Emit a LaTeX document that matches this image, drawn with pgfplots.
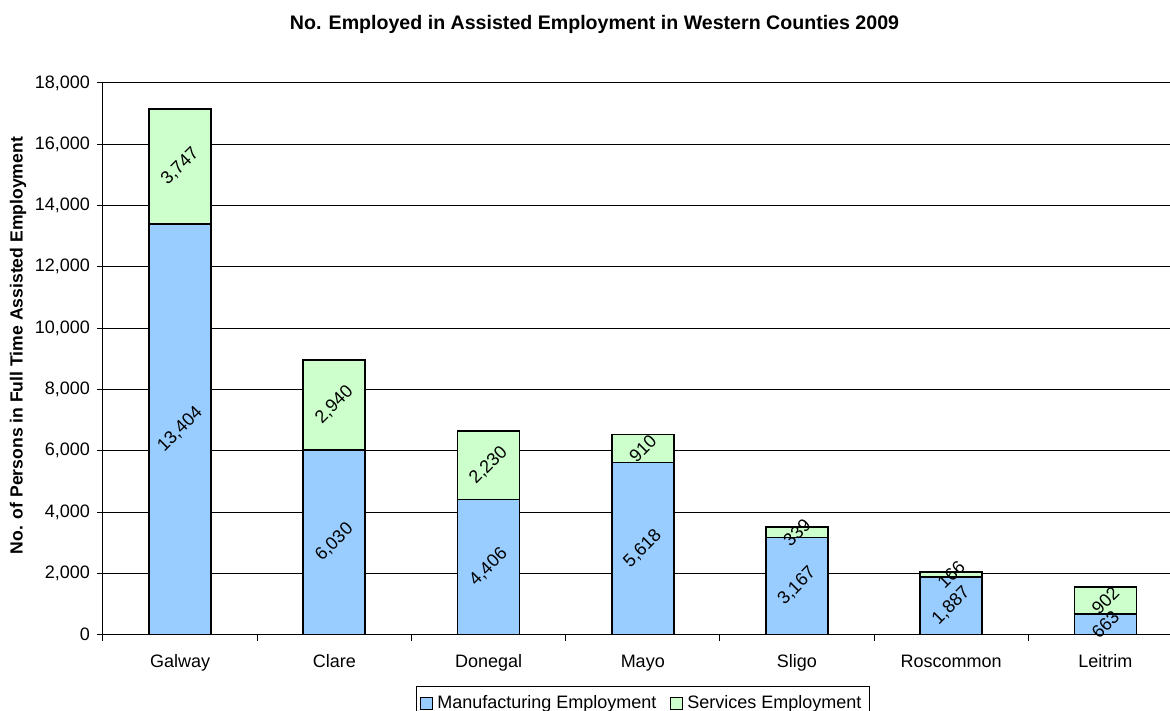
\documentclass[border=0pt]{standalone}
\usepackage{fontspec}
\setmainfont{Liberation Sans}
\usepackage{pgfplots}
\pgfplotsset{compat=1.18}
\definecolor{manu}{HTML}{99CCFF}
\definecolor{serv}{HTML}{CCFFCC}
\begin{document}
\begin{tikzpicture}
\useasboundingbox (-51.5pt,-38pt) rectangle (533.5pt,317.3pt);
\begin{axis}[
  at={(0,0)}, anchor=south west,
  scale only axis, width=533.5pt, height=275.8pt,
  font=\fontsize{9}{11}\selectfont,
  ybar stacked, bar width=31pt,
  xmin=-0.5, xmax=6.419, ymin=0, ymax=18000,
  axis x line*=bottom, axis y line*=left,
  axis line style={black, line width=0.5pt},
  xtick={0,...,6},
  xticklabels={Galway,Clare,Donegal,Mayo,Sligo,Roscommon,Leitrim},
  xticklabel style={yshift=-3.5pt},
  major x tick style={draw=none},
  minor xtick={-0.5,0.5,...,5.5},
  minor x tick style={black, line width=0.5pt},
  minor tick length=3pt,
  ytick={0,2000,...,18000},
  y tick style={black, line width=0.5pt},
  major tick length=3pt,
  tick align=outside,
  ymajorgrids, grid style={black, line width=0.5pt},
  scaled y ticks=false,
  /pgf/number format/.cd, fixed, precision=0, 1000 sep={,}, assume math mode=true,
  /pgfplots/.cd,
  title={No. Employed in Assisted Employment in Western Counties 2009},
  title style={at={(axis description cs:0.4606,1.085)}, anchor=center, font=\fontsize{9.8}{11}\selectfont\bfseries},
  ylabel={No. of Persons in Full Time Assisted Employment},
  ylabel style={at={(axis description cs:-0.0797,0.524)}, anchor=center, font=\fontsize{8.8}{11}\selectfont\bfseries},
  legend columns=2,
  legend style={at={(axis description cs:0.506,-0.094)}, anchor=north, draw=black, line width=0.5pt, fill=white, font=\fontsize{9}{11}\selectfont, inner xsep=2pt, inner ysep=2.5pt, /tikz/every even column/.append style={column sep=5pt}},
  legend image code/.code={\draw[#1, line width=0.5pt] (0pt,-3pt) rectangle (6pt,3pt);},
]
\addplot[fill=manu, draw=black, line width=0.9pt] coordinates {(0,13404) (1,6030) (2,4406) (3,5618) (4,3167) (5,1887) (6,663)};
\addlegendentry{Manufacturing Employment}
\addplot[fill=serv, draw=black, line width=0.9pt] coordinates {(0,3747) (1,2940) (2,2230) (3,910) (4,339) (5,166) (6,902)};
\addlegendentry{Services Employment}
\end{axis}
\begin{axis}[
  at={(0,0)}, anchor=south west,
  scale only axis, width=533.5pt, height=275.8pt,
  xmin=-0.5, xmax=6.419, ymin=0, ymax=18000,
  hide axis, clip=false,
  /pgf/number format/.cd, fixed, precision=0, 1000 sep={,}, assume math mode=true,
  /pgfplots/.cd,
  nodes near coords, point meta=explicit,
  every node near coord/.style={anchor=center, rotate=45, black, inner sep=0pt, font=\fontsize{9}{11}\selectfont},
]
% labels at the middle of each segment: manufacturing
\addplot[draw=none, mark=none] coordinates {(0,6702)[13404] (1,3015)[6030] (2,2203)[4406] (3,2809)[5618] (4,1583.5)[3167] (5,943.5)[1887] (6,331.5)[663]};
% services
\addplot[draw=none, mark=none] coordinates {(0,15277.5)[3747] (1,7500)[2940] (2,5521)[2230] (3,6073)[910] (4,3336.5)[339] (5,1970)[166] (6,1114)[902]};
\end{axis}
\end{tikzpicture}
\end{document}
